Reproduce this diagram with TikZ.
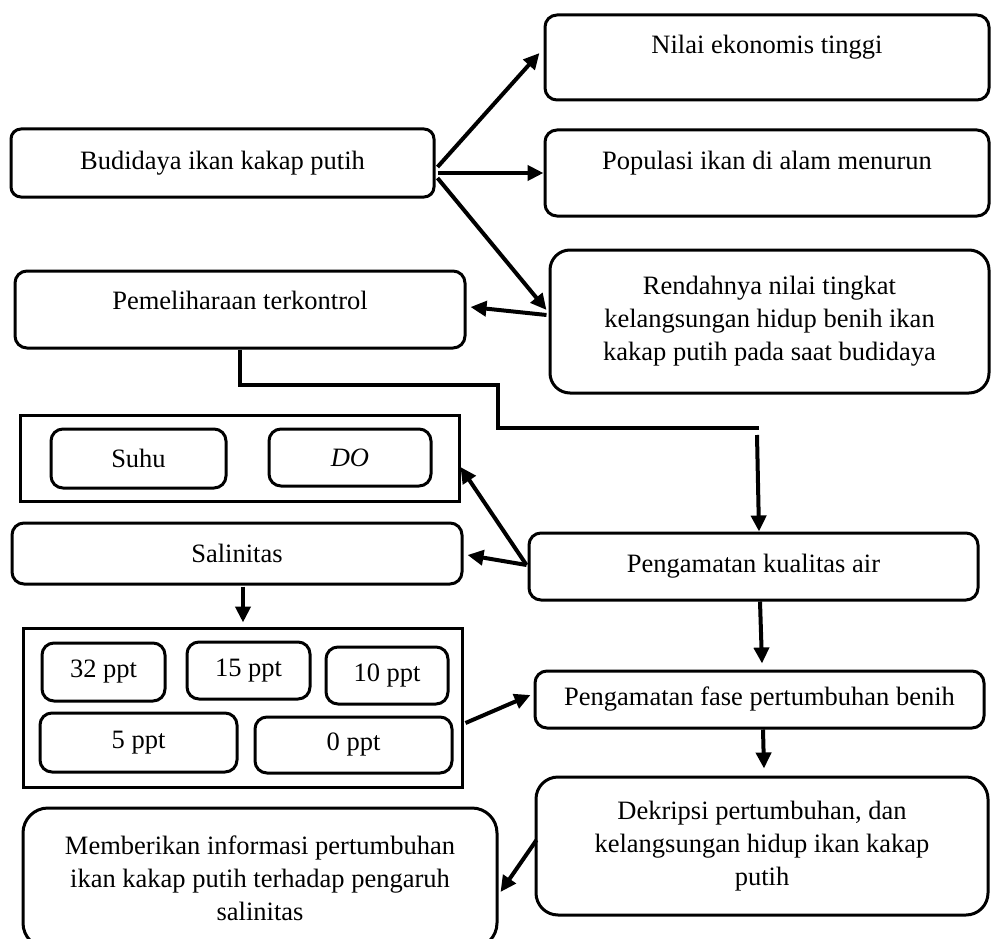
\documentclass[tikz,border=0pt]{standalone}
\usepackage{fontspec}
\setmainfont{Liberation Serif}
\usetikzlibrary{arrows.meta,calc}
\begin{document}
\begin{tikzpicture}[x=1pt,y=-1pt,
  every node/.style={font=\fontsize{26.5}{33}\selectfont},
  rbox/.style={draw,line width=3pt,rounded corners=#1,inner sep=0pt,align=center},
  rbox/.default=12pt,
  sbox/.style={draw,line width=3pt,inner sep=0pt},
  txt/.style={inner sep=0pt,align=center},
  arr/.style={line width=4pt,-{Triangle[length=16pt,width=15pt]}},
  lin/.style={line width=4pt,line join=miter}]
\clip (0,0) rectangle (991,939);
\fill[white] (0,0) rectangle (991,939);

% top group
\node[rbox=10pt,minimum width=423pt,minimum height=68pt] (bud) at (222.5,163) {Budidaya ikan kakap putih};
\node[rbox,minimum width=444pt,minimum height=85pt] (nilai) at (767,57.5) {};
\node[txt] (nilaiT) at (767,47) {Nilai ekonomis tinggi};
\node[rbox,minimum width=444pt,minimum height=86pt] (pop) at (767,173) {};
\node[txt] (popT) at (767,163) {Populasi ikan di alam menurun};
\node[rbox=20pt,minimum width=439pt,minimum height=143pt] (ren) at (769.5,321.5) {Rendahnya nilai tingkat\\kelangsungan hidup benih ikan\\kakap putih pada saat budidaya};
\node[rbox,minimum width=450pt,minimum height=77pt] (pem) at (240,309.5) {};
\node[txt] (pemT) at (240,300) {Pemeliharaan terkontrol};

% left middle
\node[sbox,minimum width=439pt,minimum height=86pt] (outer1) at (239.5,458) {};
\node[rbox,minimum width=175pt,minimum height=59pt] (suhu) at (138.5,458.5) {Suhu};
\node[rbox,minimum width=162pt,minimum height=57pt] (do) at (350,457.5) {\textit{DO}};
\node[rbox,minimum width=450pt,minimum height=61pt] (sal) at (237,553.5) {Salinitas};
\node[sbox,minimum width=439pt,minimum height=159pt] (outer2) at (242.5,707.5) {};
\node[rbox,minimum width=123pt,minimum height=58pt] (p32) at (103.5,672) {32 ppt};
\node[rbox,minimum width=123pt,minimum height=57pt] (p15) at (248.5,670.5) {15 ppt};
\node[rbox,minimum width=122pt,minimum height=57pt] (p10) at (387,675.5) {10 ppt};
\node[rbox,minimum width=197pt,minimum height=59pt] (p5) at (138.5,742.5) {5 ppt};
\node[rbox,minimum width=197pt,minimum height=56pt] (p0) at (353.5,745) {0 ppt};

% right middle / bottom
\node[rbox,minimum width=449pt,minimum height=67pt] (kual) at (753.5,566.5) {Pengamatan kualitas air};
\node[rbox,minimum width=449pt,minimum height=57pt] (fase) at (759.5,699.5) {Pengamatan fase pertumbuhan benih};
\node[rbox=22pt,minimum width=452pt,minimum height=138pt] (dek) at (762,846) {Dekripsi pertumbuhan, dan\\kelangsungan hidup ikan kakap\\putih};
\node[rbox=25pt,minimum width=474pt,minimum height=140pt] (mem) at (260,878) {Memberikan informasi pertumbuhan\\ikan kakap putih terhadap pengaruh\\salinitas};

% connectors
\draw[arr] ($(bud.east)+(2,4)$) -- ($(nilai.west)+(-4,-4.5)$);
\draw[arr] ($(bud.east)+(2,10)$) -- (pop.west);
\draw[arr] ($(bud.east)+(2,15)$) -- ($(ren.west)+(-2,-11.5)$);
\draw[arr] ($(ren.west)+(-2,-6.5)$) -- ($(pem.east)+(4,-2.5)$);

\coordinate (j1) at (498,385);
\coordinate (j2) at (759,428);
\coordinate (j3) at (757,435);
\draw[lin] (pem.south) |- (j1) |- (j2);
\draw[arr] (j3) -- ($(kual.north)+(5.5,0)$);
\draw[arr] ($(kual.south)+(6.5,0)$) -- ($(fase.north)+(2.5,-6)$);
\draw[arr] ($(fase.south)+(3.5,0)$) -- ($(dek.north)+(2,-7)$);
\draw[arr] ($(kual.west)+(-1,-1.5)$) -- ($(outer1.east)+(0,9)$);
\draw[arr] ($(kual.west)+(-1,-1.5)$) -- ($(sal.east)+(4,1.5)$);
\draw[arr] ($(sal.south)+(6,1)$) -- ($(outer2.north)+(0.5,-4)$);
\draw[arr] ($(outer2.east)+(2,15.5)$) -- ($(fase.west)+(-3,-4.5)$);
\draw[arr] ($(dek.west)+(2,-6)$) -- ($(mem.east)+(2,14)$);
\end{tikzpicture}
\end{document}
